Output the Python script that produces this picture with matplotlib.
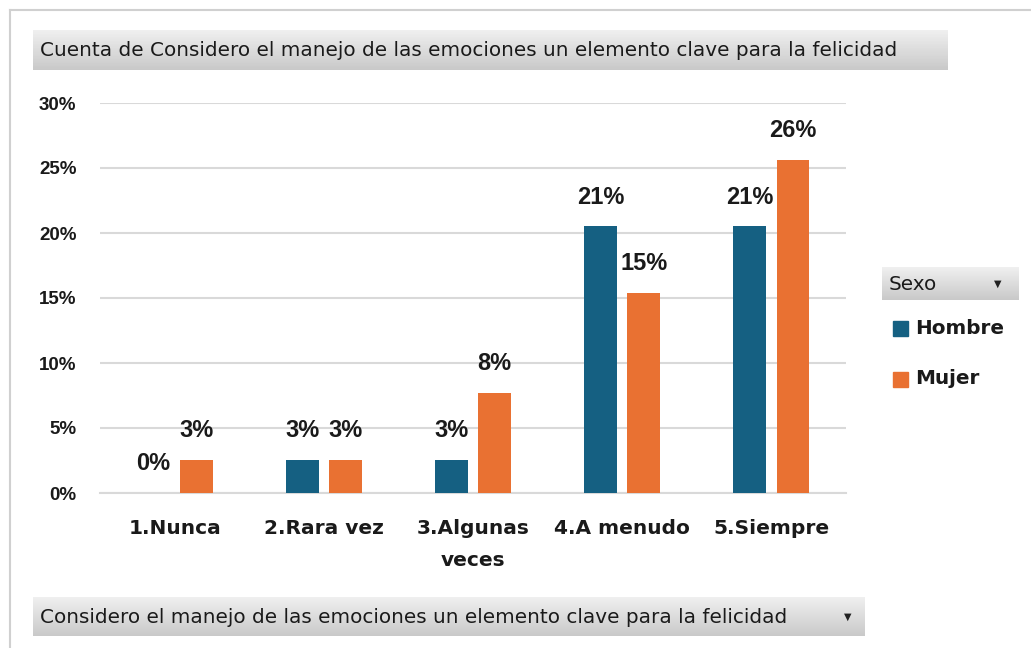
import os
import matplotlib.pyplot as plt
from matplotlib import font_manager as fm
from matplotlib.patches import Rectangle
from matplotlib.lines import Line2D
from matplotlib.colors import LinearSegmentedColormap
import numpy as np

categories = ['1.Nunca', '2.Rara vez', '3.Algunas\nveces', '4.A menudo', '5.Siempre']
hombre = [0.0, 2.56, 2.56, 20.51, 20.51]
mujer = [2.56, 2.56, 7.69, 15.38, 25.64]
series_names = ['Hombre', 'Mujer']
yticks = [0, 5, 10, 15, 20, 25, 30]

title = 'Cuenta de Considero el manejo de las emociones un elemento clave para la felicidad'
field = 'Considero el manejo de las emociones un elemento clave para la felicidad'

c_h = '#156082'
c_m = '#E97132'
grid_c = '#D9D9D9'

# normal-width Arial-like bold for the data labels
bold_files = [p for p in fm.findSystemFonts() if os.path.basename(p) == 'LiberationSans-Bold.ttf']
if bold_files:
    lab_font = fm.FontProperties(fname=bold_files[0], size=17)
else:
    lab_font = fm.FontProperties(family='DejaVu Sans', weight='bold', size=15)

W, H = 1031, 648
fig = plt.figure(figsize=(W / 100, H / 100), dpi=100)


def fx(px):
    return px / W


def fy(py):
    return 1 - py / H


# outer border of the chart area
fig.add_artist(Line2D([fx(10), 1], [fy(10), fy(10)], color='#D0D0D0', lw=1.5))
fig.add_artist(Line2D([fx(10), fx(10)], [fy(10), 0], color='#D0D0D0', lw=1.5))

gray = LinearSegmentedColormap.from_list('g', ['#F0F0F0', '#C9C9C9'])


def gray_box(x0, y0, x1, y1, text, arrow_x=None, size=14.4):
    bax = fig.add_axes([fx(x0), fy(y1), fx(x1 - x0), (y1 - y0) / H])
    grad = np.linspace(0, 1, 50).reshape(-1, 1)
    bax.imshow(grad, aspect='auto', cmap=gray, extent=[0, 1, 1, 0])
    bax.set_axis_off()
    fig.text(fx(x0 + 7), fy((y0 + y1) / 2 + 1), text, fontsize=size,
             va='center', ha='left', color='#1A1A1A')
    if arrow_x is not None:
        fig.text(fx(arrow_x), fy((y0 + y1) / 2), '\u25BC', fontsize=7, va='center',
                 ha='center', color='#222222')


gray_box(33, 30, 948, 70, title)
gray_box(33, 597, 865, 636, field, arrow_x=848)
gray_box(882, 267, 1018, 300, 'Sexo', arrow_x=998)

# legend entries
for i, (name, col) in enumerate(zip(series_names, [c_h, c_m])):
    yc = 328 + i * 51
    fig.add_artist(Rectangle((fx(893), fy(yc + 7.5)), fx(15), 15 / H, color=col))
    fig.text(fx(915), fy(yc), name, fontsize=14.4, fontweight='bold', va='center',
             ha='left', color='#1A1A1A')

ax = fig.add_axes([fx(100), fy(493), fx(746), (493 - 103) / H])
x = np.arange(len(categories))
bw = 0.22
off = 0.145
b1 = ax.bar(x - off, hombre, bw, color=c_h, zorder=3)
b2 = ax.bar(x + off, mujer, bw, color=c_m, zorder=3)

for bars, vals in [(b1, hombre), (b2, mujer)]:
    for b, v in zip(bars, vals):
        ax.annotate(f'{round(v):.0f}%', (b.get_x() + b.get_width() / 2, v),
                    xytext=(0, 21), textcoords='offset points', ha='center',
                    va='center', fontproperties=lab_font, color='#1A1A1A')

ax.set_xlim(-0.5, len(categories) - 0.5)
ax.set_ylim(0, 30)
ax.set_yticks(yticks)
ax.set_yticklabels([f'{t}%' for t in yticks], fontsize=13.5, fontweight='bold',
                   family='Liberation Sans', color='#1A1A1A')
ax.set_xticks(x)
ax.set_xticklabels(categories, fontsize=14.5, fontweight='bold', color='#1A1A1A',
                   linespacing=1.85, va='top')
ax.tick_params(axis='both', length=0)
ax.tick_params(axis='y', pad=17)
ax.tick_params(axis='x', pad=19)
ax.grid(axis='y', color=grid_c, lw=1.5, zorder=0)
for s in ['top', 'right', 'left']:
    ax.spines[s].set_visible(False)
ax.spines['bottom'].set_color(grid_c)
ax.spines['bottom'].set_linewidth(1.5)

fig.savefig('out.png', dpi=100)
